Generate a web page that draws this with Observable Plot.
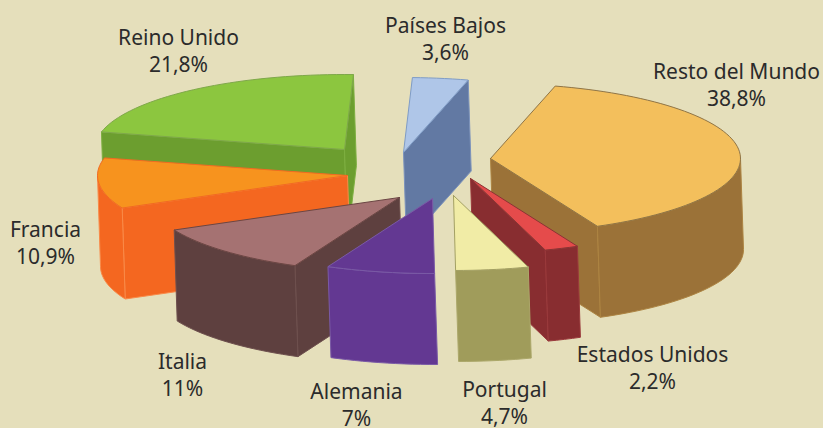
<!DOCTYPE html>
<html><head><meta charset="utf-8">
<style>html,body{margin:0;padding:0;background:#E5DFBB;overflow:hidden}svg{display:block}</style>
<script src="https://cdn.jsdelivr.net/npm/d3@7"></script>
<script src="https://cdn.jsdelivr.net/npm/@observablehq/plot@0.6"></script>
</head><body><div id="chart"></div>
<script>
// Data, clockwise from the first slice
const paises = ["Resto del Mundo","Estados Unidos","Portugal","Alemania","Italia","Francia","Reino Unido","Países Bajos"];
const valores = [38.8,2.2,4.7,7,11,10.9,21.8,3.6];
const etiquetas = ["38,8%","2,2%","4,7%","7%","11%","10,9%","21,8%","3,6%"];
// Colours
const colorSup = ["#F3BF5C","#E54B4B","#F1ECA6","#633892","#A57272","#F7931E","#8CC63F","#AFC6E8"];
const colorLat = ["#9B7238","#882D30","#A09C5B","#633892","#5E403F","#F46720","#6C9E2F","#6279A3"];
const bordeSup = ["#8F7445","#8A3434","#A3A063","#7A5AA6","#6B4644","#F26A22","#7FA84A","#7F9CC6"];
const bordeLat = ["#AD8442","#9A3A3C","#ACA86A","#7A5AA6","#6E504E","#F98A48","#7DAF40","#7C93BC"];
// Layout of the exploded pie (apex of every slice, depth vector, ellipse radii)
const apiceX = [490,470,453,432,399,347,344,403];
const apiceY = [158,178,195,198,197,175,149,152];
const inicio = 15, radioX = 250, radioY = 75, fondoX = 3, fondoY = 91;
const orden = [6,5,7,0,1,2,4,3];
// Labels
const labelX = [736,652,504,356,182,45,178,445];
const labelY = [83.5,366.5,401.5,403.5,373.5,241.5,49.5,37.5];

const total = d3.sum(valores);
const acumulado = d3.cumsum(valores);
const rad = d => d * Math.PI / 180;
const rim = (i, t, down = 0) => ({
  x: apiceX[i] + radioX * Math.sin(rad(t)) + down * fondoX,
  y: apiceY[i] - radioY * Math.cos(rad(t)) + down * fondoY
});
const apex = (i, down = 0) => ({x: apiceX[i] + down * fondoX, y: apiceY[i] + down * fondoY});
const arc = (i, a, b, down = 0) => {
  const n = Math.max(2, Math.ceil(Math.abs(b - a) / 2));
  return d3.range(n + 1).map(k => rim(i, a + (b - a) * k / n, down));
};
const caras = [];
let id = 0;
const cara = (pts, fill, stroke) => {
  const face = id++;
  [...pts, pts[0]].forEach(p => caras.push({...p, face, fill, stroke}));
};
for (const i of orden) {
  const a = inicio + (i ? acumulado[i - 1] : 0) * 360 / total;
  const b = inicio + acumulado[i] * 360 / total;
  const lat = colorLat[i], bl = bordeLat[i];
  // flat cut faces turned towards the viewer
  if (Math.cos(rad(a - 90)) < -0.01) cara([apex(i), rim(i, a), rim(i, a, 1), apex(i, 1)], lat, bl);
  if (Math.cos(rad(b + 90)) < -0.01) cara([apex(i), rim(i, b), rim(i, b, 1), apex(i, 1)], lat, bl);
  // curved outer wall, front half only
  const f0 = Math.max(a, 90), f1 = Math.min(b, 270);
  if (f1 > f0) cara([...arc(i, f0, f1), ...arc(i, f1, f0, 1)], lat, bl);
  // top
  cara([apex(i), ...arc(i, a, b)], colorSup[i], bordeSup[i]);
}
const textos = paises.map((p, i) => ({x: labelX[i], y: labelY[i], t: p + "\n" + etiquetas[i]}));

const chart = Plot.plot({
  width: 823, height: 428, margin: 0,
  style: {background: "#E5DFBB"},
  x: {domain: [0, 823], range: [0, 823], axis: null},
  y: {domain: [0, 428], range: [0, 428], axis: null},
  marks: [
    Plot.line(caras, {x: "x", y: "y", z: "face", fill: "fill", stroke: "stroke", strokeWidth: 1, curve: "linear"}),
    Plot.text(textos, {x: "x", y: "y", text: "t", fontSize: 21, lineHeight: 1.29, fill: "#2b2b2b",
      fontFamily: "'Noto Sans', 'Open Sans', sans-serif", textAnchor: "middle"})
  ]
});
document.getElementById("chart").appendChild(chart);
</script></body></html>
